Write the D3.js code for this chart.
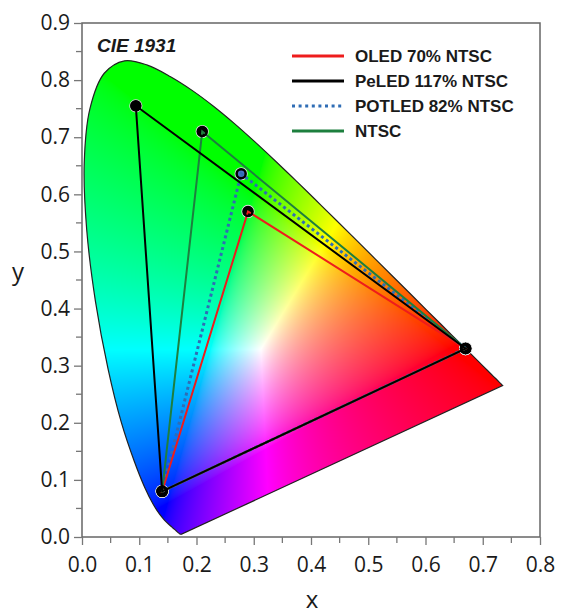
<!DOCTYPE html>
<html>
<head>
<meta charset="utf-8">
<script src="https://cdn.jsdelivr.net/npm/d3@7"></script>
<style>
  html, body { margin: 0; padding: 0; background: #fff; }
  svg { display: block; }
</style>
</head>
<body>
<svg id="chart" width="562" height="614"></svg>
<script>
// chart data
const xTicks = [0, 0.1, 0.2, 0.3, 0.4, 0.5, 0.6, 0.7, 0.8];
const yTicks = [0, 0.1, 0.2, 0.3, 0.4, 0.5, 0.6, 0.7, 0.8, 0.9];

// CIE 1931 spectral locus, 380..700 nm
const locusX = [0.1741, 0.1740, 0.1738, 0.1736, 0.1733, 0.1730, 0.1726, 0.1721, 0.1714, 0.1703,
  0.1689, 0.1669, 0.1644, 0.1611, 0.1566, 0.1510, 0.1440, 0.1355, 0.1241, 0.1096,
  0.0913, 0.0687, 0.0454, 0.0235, 0.0082, 0.0039, 0.0139, 0.0389, 0.0743, 0.1142,
  0.1547, 0.1929, 0.2296, 0.2658, 0.3016, 0.3373, 0.3731, 0.4087, 0.4441, 0.4788,
  0.5125, 0.5448, 0.5752, 0.6029, 0.6270, 0.6482, 0.6658, 0.6801, 0.6915, 0.7006,
  0.7079, 0.7140, 0.7190, 0.7230, 0.7260, 0.7283, 0.7300, 0.7311, 0.7320, 0.7327,
  0.7334, 0.7340, 0.7344, 0.7346, 0.7347];
const locusY = [0.0050, 0.0050, 0.0049, 0.0049, 0.0048, 0.0048, 0.0048, 0.0048, 0.0051, 0.0058,
  0.0069, 0.0086, 0.0109, 0.0138, 0.0177, 0.0227, 0.0297, 0.0399, 0.0578, 0.0868,
  0.1327, 0.2007, 0.2950, 0.4127, 0.5384, 0.6548, 0.7502, 0.8120, 0.8338, 0.8262,
  0.8059, 0.7816, 0.7543, 0.7243, 0.6923, 0.6589, 0.6245, 0.5896, 0.5547, 0.5202,
  0.4866, 0.4544, 0.4242, 0.3965, 0.3725, 0.3514, 0.3340, 0.3197, 0.3083, 0.2993,
  0.2920, 0.2859, 0.2809, 0.2770, 0.2740, 0.2717, 0.2700, 0.2689, 0.2680, 0.2673,
  0.2666, 0.2660, 0.2656, 0.2654, 0.2653];

// gamut triangles: red, green, blue primaries
const oledX   = [0.67, 0.29, 0.14];
const oledY   = [0.33, 0.57, 0.08];
const peledX  = [0.67, 0.094, 0.14];
const peledY  = [0.33, 0.755, 0.08];
const potledX = [0.67, 0.278, 0.14];
const potledY = [0.33, 0.636, 0.08];
const ntscX   = [0.67, 0.21, 0.14];
const ntscY   = [0.33, 0.71, 0.08];

const legendLabels = ["OLED 70% NTSC", "PeLED 117% NTSC", "POTLED 82% NTSC", "NTSC"];

// layout
const LEFT = 82, RIGHT = 540, TOP = 23, BOTTOM = 537;

const x = d3.scaleLinear([0, 0.8], [LEFT, RIGHT]);
const y = d3.scaleLinear([0, 0.9], [BOTTOM, TOP]);

const svg = d3.select('#chart');

const locus = locusX.map((d, i) => [d, locusY[i]]);
const line = d3.line().x(d => x(d[0])).y(d => y(d[1]));
const smooth = d3.line().x(d => x(d[0])).y(d => y(d[1])).curve(d3.curveCatmullRom.alpha(0.5));
const locusPath = smooth(locus) + 'Z';

// colour fill of the diagram, painted pixel by pixel on a canvas
function xyToRgb(cx, cy) {
  if (cy <= 0.001) return [0, 0, 255];
  const X = cx / cy, Y = 1, Z = (1 - cx - cy) / cy;
  let r = 3.2406 * X - 1.5372 * Y - 0.4986 * Z;
  let g = -0.9689 * X + 1.8758 * Y + 0.0415 * Z;
  let b = 0.0557 * X - 0.2040 * Y + 1.0570 * Z;
  r = Math.max(r, 0); g = Math.max(g, 0); b = Math.max(b, 0);
  const m = Math.max(r, g, b) || 1;
  const enc = v => Math.round(Math.min(1, Math.pow(v / m, 1 / 1.6)) * 255);
  return [enc(r), enc(g), enc(b)];
}

const W = RIGHT - LEFT, H = BOTTOM - TOP;
const canvas = document.createElement('canvas');
canvas.width = W; canvas.height = H;
const ctx = canvas.getContext('2d');
const img = ctx.createImageData(W, H);
for (let j = 0; j < H; j++) {
  const cy = y.invert(TOP + j + 0.5);
  for (let i = 0; i < W; i++) {
    const cx = x.invert(LEFT + i + 0.5);
    const c = xyToRgb(cx, cy);
    const k = (j * W + i) * 4;
    img.data[k] = c[0]; img.data[k + 1] = c[1]; img.data[k + 2] = c[2]; img.data[k + 3] = 255;
  }
}
ctx.putImageData(img, 0, 0);

svg.append('clipPath').attr('id', 'locus-clip')
  .append('path').attr('d', locusPath);

svg.append('image')
  .attr('x', LEFT).attr('y', TOP)
  .attr('width', W).attr('height', H)
  .attr('href', canvas.toDataURL())
  .attr('clip-path', 'url(#locus-clip)');

svg.append('path')
  .attr('d', locusPath)
  .attr('fill', 'none')
  .attr('stroke', '#222')
  .attr('stroke-width', 1.2);

// frame
svg.append('rect')
  .attr('x', LEFT).attr('y', TOP)
  .attr('width', W).attr('height', H)
  .attr('fill', 'none')
  .attr('stroke', '#666')
  .attr('stroke-width', 1.5);

// axes
const fmt = d3.format('.1f');
const xAxis = svg.append('g').attr('transform', `translate(0,${BOTTOM})`)
  .call(d3.axisBottom(x).tickValues(xTicks).tickFormat(fmt).tickSize(8).tickPadding(12));
const yAxis = svg.append('g').attr('transform', `translate(${LEFT},0)`)
  .call(d3.axisLeft(y).tickValues(yTicks).tickFormat(fmt).tickSize(8).tickPadding(4));

// minor ticks
const xMinor = d3.range(0.05, 0.8, 0.1);
const yMinor = d3.range(0.05, 0.9, 0.1);
svg.append('g').selectAll('line').data(xMinor).join('line')
  .attr('x1', d => x(d)).attr('x2', d => x(d))
  .attr('y1', BOTTOM).attr('y2', BOTTOM + 6)
  .attr('stroke', '#777').attr('stroke-width', 1.3);
svg.append('g').selectAll('line').data(yMinor).join('line')
  .attr('x1', LEFT - 6).attr('x2', LEFT)
  .attr('y1', d => y(d)).attr('y2', d => y(d))
  .attr('stroke', '#777').attr('stroke-width', 1.3);

[xAxis, yAxis].forEach(a => {
  a.select('.domain').remove();
  a.selectAll('.tick line').attr('stroke', '#777').attr('stroke-width', 1.3);
  a.selectAll('.tick text')
    .attr('fill', '#1a1a1a')
    .style('font-family', '"Open Sans", "Noto Sans", sans-serif')
    .style('font-size', '21px');
});

svg.append('text')
  .attr('x', 312).attr('y', 608)
  .attr('text-anchor', 'middle')
  .style('font-family', '"Open Sans", "Noto Sans", sans-serif')
  .style('font-size', '24px')
  .attr('fill', '#1a1a1a')
  .text('x');

svg.append('text')
  .attr('x', 18).attr('y', 280)
  .attr('text-anchor', 'middle')
  .style('font-family', '"Open Sans", "Noto Sans", sans-serif')
  .style('font-size', '24px')
  .attr('fill', '#1a1a1a')
  .text('y');

// gamut triangles
const series = [
  {name: legendLabels[2], xs: potledX, ys: potledY, color: '#2f6db5', dash: '3,3', width: 3, dot: '#4670c4'},
  {name: legendLabels[0], xs: oledX, ys: oledY, color: '#ee1c1c', dash: null, width: 2, dot: '#000'},
  {name: legendLabels[3], xs: ntscX, ys: ntscY, color: '#1d7f3e', dash: null, width: 2, dot: '#000'},
  {name: legendLabels[1], xs: peledX, ys: peledY, color: '#000', dash: null, width: 2, dot: '#000'}
];

series.forEach(s => {
  const pts = s.xs.map((d, i) => [d, s.ys[i]]);
  svg.append('g').selectAll('circle').data(pts).join('circle')
    .attr('cx', d => x(d[0])).attr('cy', d => y(d[1]))
    .attr('r', 6)
    .attr('fill', s.dot)
    .attr('stroke', '#ddd')
    .attr('stroke-width', 1.2);
});

series.forEach(s => {
  const pts = s.xs.map((d, i) => [d, s.ys[i]]);
  svg.append('path')
    .attr('d', line(pts) + 'Z')
    .attr('fill', 'none')
    .attr('stroke', s.color)
    .attr('stroke-width', s.width)
    .attr('stroke-dasharray', s.dash);
});

// black rings on the vertices
series.forEach(s => {
  const pts = s.xs.map((d, i) => [d, s.ys[i]]);
  svg.append('g').selectAll('circle').data(pts).join('circle')
    .attr('cx', d => x(d[0])).attr('cy', d => y(d[1]))
    .attr('r', 4.5)
    .attr('fill', 'none')
    .attr('stroke', '#000')
    .attr('stroke-width', 2.5);
});

// legend
const legendOrder = [1, 3, 0, 2].map(i => series[i]);
const legend = svg.append('g');
legendOrder.forEach((s, i) => {
  const yy = 56 + i * 25;
  legend.append('line')
    .attr('x1', 292).attr('x2', 344)
    .attr('y1', yy).attr('y2', yy)
    .attr('stroke', s.color)
    .attr('stroke-width', 3)
    .attr('stroke-dasharray', s.dash ? '3,3.6' : null);
  legend.append('text')
    .attr('x', 355).attr('y', yy)
    .attr('dy', '0.36em')
    .style('font-family', '"Liberation Sans", Arial, sans-serif')
    .style('font-weight', 'bold')
    .style('font-size', '17px')
    .attr('fill', '#1a1a1a')
    .text(s.name);
});

svg.append('text')
  .attr('x', 97).attr('y', 52)
  .style('font-family', '"Liberation Sans", Arial, sans-serif')
  .style('font-weight', 'bold')
  .style('font-style', 'italic')
  .style('font-size', '19px')
  .attr('fill', '#1a1a1a')
  .text('CIE 1931');
</script>
</body>
</html>
